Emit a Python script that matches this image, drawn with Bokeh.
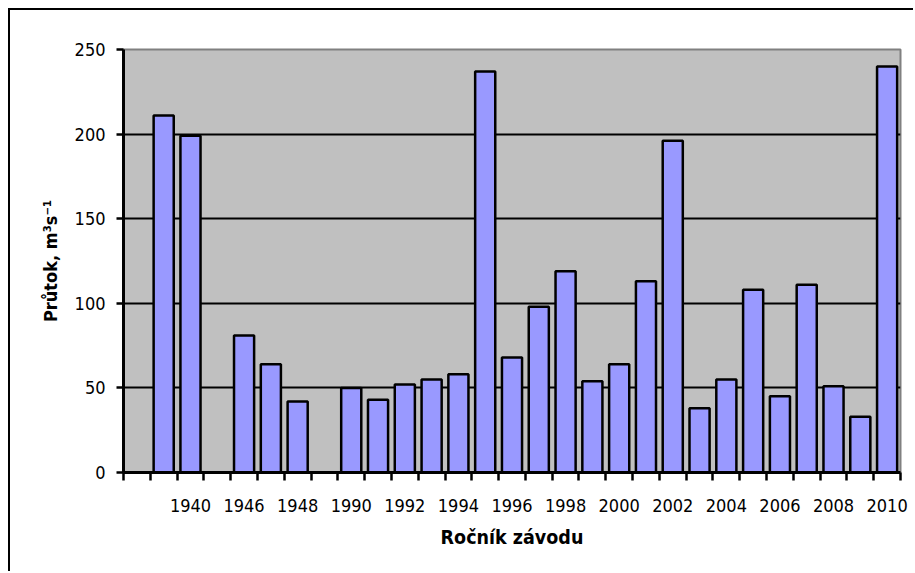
from bokeh.plotting import figure
from bokeh.models import Range1d, FixedTicker
from bokeh.embed import file_html
from bokeh.resources import INLINE

# ---- data (one slot per category on the Excel-style axis) ----
categories = ["", "", "1940", "", "1946", "1947", "1948", "",
              "1990", "1991", "1992", "1993", "1994", "1995", "1996", "1997",
              "1998", "1999", "2000", "2001", "2002", "2003", "2004", "2005",
              "2006", "2007", "2008", "2009", "2010"]
flows = [None, 211, 199, None, 81, 64, 42, None,
         50, 43, 52, 55, 58, 237, 68, 98,
         119, 54, 64, 113, 196, 38, 55, 108,
         45, 111, 51, 33, 240]
y_ticks = [0, 50, 100, 150, 200, 250]

FONT = "DejaVu Sans Condensed"

n = len(categories)
bar_x = [i + 0.5 for i, v in enumerate(flows) if v is not None]
bar_top = [v for v in flows if v is not None]

p = figure(width=905, height=563, output_backend="svg", toolbar_location=None,
           x_range=Range1d(0, n), y_range=Range1d(0, 250),
           min_border_left=113, min_border_right=15, min_border_top=39, min_border_bottom=101,
           background_fill_color="#C0C0C0", border_fill_color="white")
p.styles = {"border-left": "2px solid black", "border-top": "2px solid black",
            "margin-left": "8px", "margin-top": "8px"}

p.vbar(x=bar_x, top=bar_top, bottom=0, width=0.75,
       fill_color="#9999FF", line_color="black", line_width=2.5)

p.outline_line_color = "#808080"
p.outline_line_width = 2

# grid
p.xgrid.visible = False
p.ygrid.ticker = FixedTicker(ticks=[50, 100, 150, 200])
p.ygrid.grid_line_color = "black"
p.ygrid.grid_line_width = 2
p.ygrid.level = "underlay"

# x axis: labels at every other category centre, tick marks at category borders
lab_ticks = [i + 0.5 for i in range(0, n, 2)]
xa = p.xaxis[0]
xa.ticker = FixedTicker(ticks=lab_ticks, minor_ticks=list(range(0, n + 1)))
xa.major_label_overrides = {i + 0.5: categories[i] for i in range(0, n, 2)}
xa.major_tick_out = 0
xa.major_tick_in = 0
xa.minor_tick_out = 8
xa.minor_tick_in = 0
xa.minor_tick_line_color = "black"
xa.minor_tick_line_width = 2.5
xa.axis_line_color = "black"
xa.axis_line_width = 3
xa.major_label_text_font = FONT
xa.major_label_text_font_size = "18px"
xa.major_label_text_color = "black"
xa.major_label_standoff = 18
xa.axis_label = "Ročník závodu"
xa.axis_label_text_font = FONT
xa.axis_label_text_font_style = "bold"
xa.axis_label_text_font_size = "19.5px"
xa.axis_label_text_color = "black"
xa.axis_label_standoff = 11

# y axis
ya = p.yaxis[0]
ya.ticker = FixedTicker(ticks=y_ticks)
ya.major_tick_out = 7
ya.major_tick_in = 0
ya.major_tick_line_width = 2.5
ya.major_tick_line_color = "black"
ya.minor_tick_line_color = None
ya.axis_line_color = "black"
ya.axis_line_width = 3
ya.major_label_text_font = FONT
ya.major_label_text_font_size = "18px"
ya.major_label_text_color = "black"
ya.major_label_standoff = 11
ya.axis_label = "Průtok, m³s⁻¹"
ya.axis_label_text_font = FONT
ya.axis_label_text_font_style = "bold"
ya.axis_label_text_font_size = "18px"
ya.axis_label_text_color = "black"
ya.axis_label_standoff = 11

open("out.html", "w").write(file_html(p, INLINE))
